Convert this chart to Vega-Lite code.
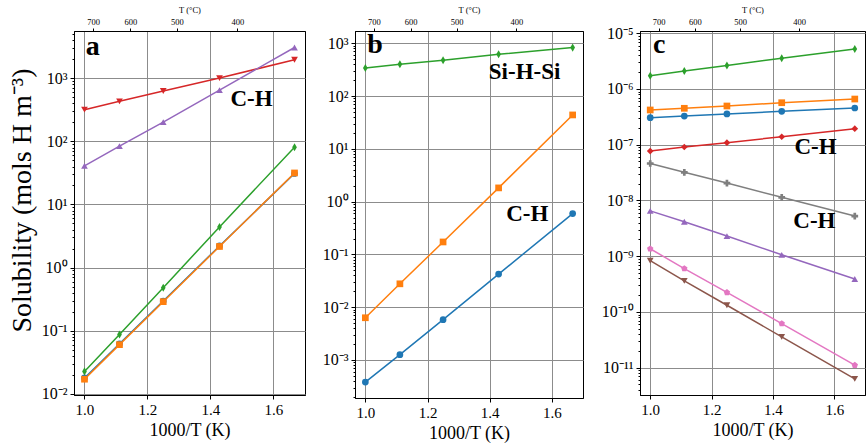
{
  "$schema": "https://vega.github.io/schema/vega-lite/v6.json",
  "background": "white",
  "padding": {"left": 7, "top": 4, "right": 4, "bottom": 4},
  "datasets": {
    "solubility": [
      {"panel": "a", "series": "a0", "x": 1.0, "y": 0.0178},
      {"panel": "a", "series": "a0", "x": 1.1111, "y": 0.062},
      {"panel": "a", "series": "a0", "x": 1.25, "y": 0.295},
      {"panel": "a", "series": "a0", "x": 1.4286, "y": 2.2},
      {"panel": "a", "series": "a0", "x": 1.6667, "y": 31},
      {"panel": "a", "series": "a1", "x": 1.0, "y": 0.017},
      {"panel": "a", "series": "a1", "x": 1.1111, "y": 0.06},
      {"panel": "a", "series": "a1", "x": 1.25, "y": 0.288},
      {"panel": "a", "series": "a1", "x": 1.4286, "y": 2.16},
      {"panel": "a", "series": "a1", "x": 1.6667, "y": 31.6},
      {"panel": "a", "series": "a2", "x": 1.0, "y": 0.0226},
      {"panel": "a", "series": "a2", "x": 1.1111, "y": 0.087},
      {"panel": "a", "series": "a2", "x": 1.25, "y": 0.48},
      {"panel": "a", "series": "a2", "x": 1.4286, "y": 4.4},
      {"panel": "a", "series": "a2", "x": 1.6667, "y": 81},
      {"panel": "a", "series": "a3", "x": 1.0, "y": 318},
      {"panel": "a", "series": "a3", "x": 1.1111, "y": 432},
      {"panel": "a", "series": "a3", "x": 1.25, "y": 630},
      {"panel": "a", "series": "a3", "x": 1.4286, "y": 1010},
      {"panel": "a", "series": "a3", "x": 1.6667, "y": 1970},
      {"panel": "a", "series": "a4", "x": 1.0, "y": 41},
      {"panel": "a", "series": "a4", "x": 1.1111, "y": 84},
      {"panel": "a", "series": "a4", "x": 1.25, "y": 202},
      {"panel": "a", "series": "a4", "x": 1.4286, "y": 650},
      {"panel": "a", "series": "a4", "x": 1.6667, "y": 3080},
      {"panel": "b", "series": "b0", "x": 1.0, "y": 0.00038},
      {"panel": "b", "series": "b0", "x": 1.1111, "y": 0.00126},
      {"panel": "b", "series": "b0", "x": 1.25, "y": 0.0058},
      {"panel": "b", "series": "b0", "x": 1.4286, "y": 0.0423},
      {"panel": "b", "series": "b0", "x": 1.6667, "y": 0.593},
      {"panel": "b", "series": "b1", "x": 1.0, "y": 0.0063},
      {"panel": "b", "series": "b1", "x": 1.1111, "y": 0.0277},
      {"panel": "b", "series": "b1", "x": 1.25, "y": 0.172},
      {"panel": "b", "series": "b1", "x": 1.4286, "y": 1.82},
      {"panel": "b", "series": "b1", "x": 1.6667, "y": 43.9},
      {"panel": "b", "series": "b2", "x": 1.0, "y": 340},
      {"panel": "b", "series": "b2", "x": 1.1111, "y": 400},
      {"panel": "b", "series": "b2", "x": 1.25, "y": 476},
      {"panel": "b", "series": "b2", "x": 1.4286, "y": 620},
      {"panel": "b", "series": "b2", "x": 1.6667, "y": 828},
      {"panel": "c", "series": "c0", "x": 1.0, "y": 3.05e-7},
      {"panel": "c", "series": "c0", "x": 1.1111, "y": 3.27e-7},
      {"panel": "c", "series": "c0", "x": 1.25, "y": 3.56e-7},
      {"panel": "c", "series": "c0", "x": 1.4286, "y": 3.97e-7},
      {"panel": "c", "series": "c0", "x": 1.6667, "y": 4.56e-7},
      {"panel": "c", "series": "c1", "x": 1.0, "y": 4.2e-7},
      {"panel": "c", "series": "c1", "x": 1.1111, "y": 4.5e-7},
      {"panel": "c", "series": "c1", "x": 1.25, "y": 4.95e-7},
      {"panel": "c", "series": "c1", "x": 1.4286, "y": 5.67e-7},
      {"panel": "c", "series": "c1", "x": 1.6667, "y": 6.6e-7},
      {"panel": "c", "series": "c2", "x": 1.0, "y": 1.73e-6},
      {"panel": "c", "series": "c2", "x": 1.1111, "y": 2.1e-6},
      {"panel": "c", "series": "c2", "x": 1.25, "y": 2.63e-6},
      {"panel": "c", "series": "c2", "x": 1.4286, "y": 3.56e-6},
      {"panel": "c", "series": "c2", "x": 1.6667, "y": 5.2e-6},
      {"panel": "c", "series": "c3", "x": 1.0, "y": 7.7e-8},
      {"panel": "c", "series": "c3", "x": 1.1111, "y": 9.1e-8},
      {"panel": "c", "series": "c3", "x": 1.25, "y": 1.09e-7},
      {"panel": "c", "series": "c3", "x": 1.4286, "y": 1.39e-7},
      {"panel": "c", "series": "c3", "x": 1.6667, "y": 1.94e-7},
      {"panel": "c", "series": "c4", "x": 1.0, "y": 6.5e-9},
      {"panel": "c", "series": "c4", "x": 1.1111, "y": 4.15e-9},
      {"panel": "c", "series": "c4", "x": 1.25, "y": 2.3e-9},
      {"panel": "c", "series": "c4", "x": 1.4286, "y": 1.06e-9},
      {"panel": "c", "series": "c4", "x": 1.6667, "y": 3.9e-10},
      {"panel": "c", "series": "c5", "x": 1.0, "y": 8.3e-10},
      {"panel": "c", "series": "c5", "x": 1.1111, "y": 3.6e-10},
      {"panel": "c", "series": "c5", "x": 1.25, "y": 1.32e-10},
      {"panel": "c", "series": "c5", "x": 1.4286, "y": 3.57e-11},
      {"panel": "c", "series": "c5", "x": 1.6667, "y": 6.3e-12},
      {"panel": "c", "series": "c6", "x": 1.0, "y": 1.36e-9},
      {"panel": "c", "series": "c6", "x": 1.1111, "y": 6.0e-10},
      {"panel": "c", "series": "c6", "x": 1.25, "y": 2.24e-10},
      {"panel": "c", "series": "c6", "x": 1.4286, "y": 6.2e-11},
      {"panel": "c", "series": "c6", "x": 1.6667, "y": 1.11e-11},
      {"panel": "c", "series": "c7", "x": 1.0, "y": 4.6e-8},
      {"panel": "c", "series": "c7", "x": 1.1111, "y": 3.2e-8},
      {"panel": "c", "series": "c7", "x": 1.25, "y": 2.05e-8},
      {"panel": "c", "series": "c7", "x": 1.4286, "y": 1.14e-8},
      {"panel": "c", "series": "c7", "x": 1.6667, "y": 5.25e-9}
    ],
    "notes": [
      {"panel": "a", "kind": "letter", "label": "a", "x": 1.004, "y": 2300},
      {"panel": "a", "kind": "bond", "label": "C-H", "x": 1.4635, "y": 361},
      {"panel": "b", "kind": "letter", "label": "b", "x": 1.006, "y": 646},
      {"panel": "b", "kind": "bond", "label": "Si-H-Si", "x": 1.397, "y": 208},
      {"panel": "b", "kind": "bond", "label": "C-H", "x": 1.453, "y": 0.436},
      {"panel": "c", "kind": "letter", "label": "c", "x": 1.009, "y": 4.37e-6},
      {"panel": "c", "kind": "bond", "label": "C-H", "x": 1.47, "y": 6.73e-8},
      {"panel": "c", "kind": "bond", "label": "C-H", "x": 1.4665, "y": 3.16e-9}
    ]
  },
  "config": {
    "font": "Liberation Serif",
    "view": {"stroke": "black", "strokeWidth": 1},
    "axis": {
      "domainColor": "black",
      "tickColor": "black",
      "labelColor": "black",
      "titleColor": "black",
      "labelFont": "Liberation Serif",
      "titleFont": "Liberation Serif",
      "titleFontWeight": "normal",
      "gridColor": "#8c8c8c",
      "gridWidth": 1
    },
    "style": {
      "guide-label": {"font": "Liberation Serif"},
      "guide-title": {"font": "Liberation Serif"}
    },
    "text": {"font": "Liberation Serif"}
  },
  "bounds": "flush",
  "spacing": 50,
  "hconcat": [
    {
      "width": 231,
      "height": 364,
      "resolve": {"axis": {"x": "independent", "y": "independent"}},
      "layer": [
        {
          "data": {"name": "solubility"},
          "transform": [{"filter": "datum.panel === 'a'"}],
          "mark": {"type": "line", "strokeWidth": 1.5},
          "encoding": {
            "x": {"field": "x", "type": "quantitative",
              "scale": {"domain": [0.9667, 1.7], "nice": false, "zero": false},
              "axis": {"orient": "bottom", "values": [1.0, 1.2, 1.4, 1.6], "format": ".1f", "title": "1000/T (K)", "labelFont": "Liberation Serif", "titleFont": "Liberation Serif", "titleFontSize": 18, "labelFontSize": 15, "tickSize": 4, "labelPadding": 3, "titlePadding": 4, "grid": true, "labelFlush": false, "labelOverlap": false}},
            "y": {"field": "y", "type": "quantitative",
              "scale": {"type": "log", "domain": [0.00955, 5623], "nice": false},
              "axis": {"orient": "left",
                "values": [0.01,0.02,0.03,0.04,0.05,0.06,0.07,0.08,0.09,0.1,0.2,0.3,0.4,0.5,0.6,0.7,0.8,0.9,1,2,3,4,5,6,7,8,9,10,20,30,40,50,60,70,80,90,100,200,300,400,500,600,700,800,900,1000,2000,3000,4000,5000],
                "labelExpr": "abs(log(datum.value)/LN10 - round(log(datum.value)/LN10)) < 0.001 ? '10' + replace(replace(replace(replace(replace(replace(replace(replace(replace(replace(replace('' + round(log(datum.value)/LN10), regexp('-','g'), '⁻'), regexp('0','g'), '⁰'), regexp('1','g'), '¹'), regexp('2','g'), '²'), regexp('3','g'), '³'), regexp('4','g'), '⁴'), regexp('5','g'), '⁵'), regexp('6','g'), '⁶'), regexp('7','g'), '⁷'), regexp('8','g'), '⁸'), regexp('9','g'), '⁹') : ''",
                "labelFont": "Liberation Serif", "titleFont": "Liberation Serif",
                "labelFontSize": 16, "labelPadding": 3, "labelOverlap": false,
                "tickSize": {"condition": {"test": "abs(log(datum.value)/LN10 - round(log(datum.value)/LN10)) < 0.001", "value": 4}, "value": 2},
                "grid": true,
                "gridOpacity": {"condition": {"test": "abs(log(datum.value)/LN10 - round(log(datum.value)/LN10)) < 0.001", "value": 1}, "value": 0},
                "title": "Solubility (mols H m⁻³)", "titleFontSize": 28, "titleAngle": 270, "titleAlign": "center", "titleBaseline": "alphabetic", "titleX": -44, "titleY": 169}},
            "color": {"field": "series", "type": "nominal", "legend": null,
              "scale": {"domain": ["a0","a1","a2","a3","a4","b0","b1","b2","c0","c1","c2","c3","c4","c5","c6","c7"],
                "range": ["#1f77b4","#ff7f0e","#2ca02c","#d62728","#9467bd","#1f77b4","#ff7f0e","#2ca02c","#1f77b4","#ff7f0e","#2ca02c","#d62728","#9467bd","#8c564b","#e377c2","#7f7f7f"]}}
          }
        },
        {
          "data": {"name": "solubility"},
          "transform": [{"filter": "datum.panel === 'a'"}],
          "mark": {"type": "point", "filled": true, "opacity": 1, "size": 45},
          "encoding": {
            "x": {"field": "x", "type": "quantitative",
              "scale": {"domain": [0.9667, 1.7], "nice": false, "zero": false},
              "axis": {"orient": "top", "values": [1.02759, 1.14528, 1.29341, 1.48558], "labelExpr": "'' + round(1000/datum.value - 273.15)", "title": "T (°C)", "labelFont": "Liberation Serif", "titleFont": "Liberation Serif", "titleFontSize": 8.5, "labelFontSize": 8.5, "tickSize": 3, "labelPadding": 2, "titlePadding": 3, "grid": false, "labelFlush": false, "labelOverlap": false}},
            "y": {"field": "y", "type": "quantitative", "scale": {"type": "log", "domain": [0.00955, 5623], "nice": false}, "axis": null},
            "color": {"field": "series", "type": "nominal", "legend": null,
              "scale": {"domain": ["a0","a1","a2","a3","a4","b0","b1","b2","c0","c1","c2","c3","c4","c5","c6","c7"],
                "range": ["#1f77b4","#ff7f0e","#2ca02c","#d62728","#9467bd","#1f77b4","#ff7f0e","#2ca02c","#1f77b4","#ff7f0e","#2ca02c","#d62728","#9467bd","#8c564b","#e377c2","#7f7f7f"]}},
            "shape": {"field": "series", "type": "nominal", "legend": null,
              "scale": {"domain": ["a0","a1","a2","a3","a4","b0","b1","b2","c0","c1","c2","c3","c4","c5","c6","c7"],
                "range": ["circle","square","M0,-1.2L0.7,0L0,1.2L-0.7,0Z","triangle-down","triangle-up","circle","square","M0,-1.2L0.7,0L0,1.2L-0.7,0Z","circle","square","M0,-1.2L0.7,0L0,1.2L-0.7,0Z","diamond","triangle-up","triangle-down","M0,-1L0.951,-0.309L0.588,0.809L-0.588,0.809L-0.951,-0.309Z","cross"]}}
          }
        },
        {
          "data": {"name": "notes"},
          "transform": [{"filter": "datum.panel === 'a' && datum.kind === 'letter'"}],
          "mark": {"type": "text", "align": "left", "baseline": "alphabetic", "font": "Liberation Serif", "fontWeight": "bold", "fontSize": 28, "color": "black"},
          "encoding": {
            "x": {"field": "x", "type": "quantitative", "scale": {"domain": [0.9667, 1.7], "nice": false, "zero": false}, "axis": null},
            "y": {"field": "y", "type": "quantitative", "scale": {"type": "log", "domain": [0.00955, 5623], "nice": false}, "axis": null},
            "text": {"field": "label"}
          }
        },
        {
          "data": {"name": "notes"},
          "transform": [{"filter": "datum.panel === 'a' && datum.kind === 'bond'"}],
          "mark": {"type": "text", "align": "left", "baseline": "alphabetic", "font": "Liberation Serif", "fontWeight": "bold", "fontSize": 23, "color": "black"},
          "encoding": {
            "x": {"field": "x", "type": "quantitative", "scale": {"domain": [0.9667, 1.7], "nice": false, "zero": false}, "axis": null},
            "y": {"field": "y", "type": "quantitative", "scale": {"type": "log", "domain": [0.00955, 5623], "nice": false}, "axis": null},
            "text": {"field": "label"}
          }
        }
      ]
    },
    {
      "bounds": "flush",
      "spacing": 57,
      "hconcat": [
        {
          "width": 228,
          "height": 367,
          "resolve": {"axis": {"x": "independent", "y": "independent"}},
          "layer": [
            {
              "data": {"name": "solubility"},
              "transform": [{"filter": "datum.panel === 'b'"}],
              "mark": {"type": "line", "strokeWidth": 1.5},
              "encoding": {
                "x": {"field": "x", "type": "quantitative",
                  "scale": {"domain": [0.9667, 1.7], "nice": false, "zero": false},
                  "axis": {"orient": "bottom", "values": [1.0, 1.2, 1.4, 1.6], "format": ".1f", "title": "1000/T (K)", "labelFont": "Liberation Serif", "titleFont": "Liberation Serif", "titleFontSize": 18, "labelFontSize": 15, "tickSize": 4, "labelPadding": 3, "titlePadding": 4, "grid": true, "labelFlush": false, "labelOverlap": false}},
                "y": {"field": "y", "type": "quantitative",
                  "scale": {"type": "log", "domain": [0.00019, 1710], "nice": false},
                  "axis": {"orient": "left",
                    "values": [0.0002,0.0003,0.0004,0.0005,0.0006,0.0007,0.0008,0.0009,0.001,0.002,0.003,0.004,0.005,0.006,0.007,0.008,0.009,0.01,0.02,0.03,0.04,0.05,0.06,0.07,0.08,0.09,0.1,0.2,0.3,0.4,0.5,0.6,0.7,0.8,0.9,1,2,3,4,5,6,7,8,9,10,20,30,40,50,60,70,80,90,100,200,300,400,500,600,700,800,900,1000],
                    "labelExpr": "abs(log(datum.value)/LN10 - round(log(datum.value)/LN10)) < 0.001 ? '10' + replace(replace(replace(replace(replace(replace(replace(replace(replace(replace(replace('' + round(log(datum.value)/LN10), regexp('-','g'), '⁻'), regexp('0','g'), '⁰'), regexp('1','g'), '¹'), regexp('2','g'), '²'), regexp('3','g'), '³'), regexp('4','g'), '⁴'), regexp('5','g'), '⁵'), regexp('6','g'), '⁶'), regexp('7','g'), '⁷'), regexp('8','g'), '⁸'), regexp('9','g'), '⁹') : ''",
                    "labelFont": "Liberation Serif",
                    "labelFontSize": 16, "labelPadding": 3, "labelOverlap": false,
                    "tickSize": {"condition": {"test": "abs(log(datum.value)/LN10 - round(log(datum.value)/LN10)) < 0.001", "value": 4}, "value": 2},
                    "grid": true,
                    "gridOpacity": {"condition": {"test": "abs(log(datum.value)/LN10 - round(log(datum.value)/LN10)) < 0.001", "value": 1}, "value": 0},
                    "title": null}},
                "color": {"field": "series", "type": "nominal", "legend": null,
                  "scale": {"domain": ["a0","a1","a2","a3","a4","b0","b1","b2","c0","c1","c2","c3","c4","c5","c6","c7"],
                    "range": ["#1f77b4","#ff7f0e","#2ca02c","#d62728","#9467bd","#1f77b4","#ff7f0e","#2ca02c","#1f77b4","#ff7f0e","#2ca02c","#d62728","#9467bd","#8c564b","#e377c2","#7f7f7f"]}}
              }
            },
            {
              "data": {"name": "solubility"},
              "transform": [{"filter": "datum.panel === 'b'"}],
              "mark": {"type": "point", "filled": true, "opacity": 1, "size": 45},
              "encoding": {
                "x": {"field": "x", "type": "quantitative",
                  "scale": {"domain": [0.9667, 1.7], "nice": false, "zero": false},
                  "axis": {"orient": "top", "values": [1.02759, 1.14528, 1.29341, 1.48558], "labelExpr": "'' + round(1000/datum.value - 273.15)", "title": "T (°C)", "labelFont": "Liberation Serif", "titleFont": "Liberation Serif", "titleFontSize": 8.5, "labelFontSize": 8.5, "tickSize": 3, "labelPadding": 2, "titlePadding": 3, "grid": false, "labelFlush": false, "labelOverlap": false}},
                "y": {"field": "y", "type": "quantitative", "scale": {"type": "log", "domain": [0.00019, 1710], "nice": false}, "axis": null},
                "color": {"field": "series", "type": "nominal", "legend": null,
                  "scale": {"domain": ["a0","a1","a2","a3","a4","b0","b1","b2","c0","c1","c2","c3","c4","c5","c6","c7"],
                    "range": ["#1f77b4","#ff7f0e","#2ca02c","#d62728","#9467bd","#1f77b4","#ff7f0e","#2ca02c","#1f77b4","#ff7f0e","#2ca02c","#d62728","#9467bd","#8c564b","#e377c2","#7f7f7f"]}},
                "shape": {"field": "series", "type": "nominal", "legend": null,
                  "scale": {"domain": ["a0","a1","a2","a3","a4","b0","b1","b2","c0","c1","c2","c3","c4","c5","c6","c7"],
                    "range": ["circle","square","M0,-1.2L0.7,0L0,1.2L-0.7,0Z","triangle-down","triangle-up","circle","square","M0,-1.2L0.7,0L0,1.2L-0.7,0Z","circle","square","M0,-1.2L0.7,0L0,1.2L-0.7,0Z","diamond","triangle-up","triangle-down","M0,-1L0.951,-0.309L0.588,0.809L-0.588,0.809L-0.951,-0.309Z","cross"]}}
              }
            },
            {
              "data": {"name": "notes"},
              "transform": [{"filter": "datum.panel === 'b' && datum.kind === 'letter'"}],
              "mark": {"type": "text", "align": "left", "baseline": "alphabetic", "font": "Liberation Serif", "fontWeight": "bold", "fontSize": 28, "color": "black"},
              "encoding": {
                "x": {"field": "x", "type": "quantitative", "scale": {"domain": [0.9667, 1.7], "nice": false, "zero": false}, "axis": null},
                "y": {"field": "y", "type": "quantitative", "scale": {"type": "log", "domain": [0.00019, 1710], "nice": false}, "axis": null},
                "text": {"field": "label"}
              }
            },
            {
              "data": {"name": "notes"},
              "transform": [{"filter": "datum.panel === 'b' && datum.kind === 'bond'"}],
              "mark": {"type": "text", "align": "left", "baseline": "alphabetic", "font": "Liberation Serif", "fontWeight": "bold", "fontSize": 23, "color": "black"},
              "encoding": {
                "x": {"field": "x", "type": "quantitative", "scale": {"domain": [0.9667, 1.7], "nice": false, "zero": false}, "axis": null},
                "y": {"field": "y", "type": "quantitative", "scale": {"type": "log", "domain": [0.00019, 1710], "nice": false}, "axis": null},
                "text": {"field": "label"}
              }
            }
          ]
        },
        {
          "width": 225,
          "height": 364,
          "resolve": {"axis": {"x": "independent", "y": "independent"}},
          "layer": [
            {
              "data": {"name": "solubility"},
              "transform": [{"filter": "datum.panel === 'c'"}],
              "mark": {"type": "line", "strokeWidth": 1.5},
              "encoding": {
                "x": {"field": "x", "type": "quantitative",
                  "scale": {"domain": [0.9667, 1.7], "nice": false, "zero": false},
                  "axis": {"orient": "bottom", "values": [1.0, 1.2, 1.4, 1.6], "format": ".1f", "title": "1000/T (K)", "labelFont": "Liberation Serif", "titleFont": "Liberation Serif", "titleFontSize": 18, "labelFontSize": 15, "tickSize": 4, "labelPadding": 3, "titlePadding": 4, "grid": true, "labelFlush": false, "labelOverlap": false}},
                "y": {"field": "y", "type": "quantitative",
                  "scale": {"type": "log", "domain": [3.24e-12, 1.096e-5], "nice": false},
                  "axis": {"orient": "left",
                    "values": [4e-12,5e-12,6e-12,7e-12,8e-12,9e-12,1e-11,2e-11,3e-11,4e-11,5e-11,6e-11,7e-11,8e-11,9e-11,1e-10,2e-10,3e-10,4e-10,5e-10,6e-10,7e-10,8e-10,9e-10,1e-9,2e-9,3e-9,4e-9,5e-9,6e-9,7e-9,8e-9,9e-9,1e-8,2e-8,3e-8,4e-8,5e-8,6e-8,7e-8,8e-8,9e-8,1e-7,2e-7,3e-7,4e-7,5e-7,6e-7,7e-7,8e-7,9e-7,1e-6,2e-6,3e-6,4e-6,5e-6,6e-6,7e-6,8e-6,9e-6,1e-5],
                    "labelExpr": "abs(log(datum.value)/LN10 - round(log(datum.value)/LN10)) < 0.001 ? '10' + replace(replace(replace(replace(replace(replace(replace(replace(replace(replace(replace('' + round(log(datum.value)/LN10), regexp('-','g'), '⁻'), regexp('0','g'), '⁰'), regexp('1','g'), '¹'), regexp('2','g'), '²'), regexp('3','g'), '³'), regexp('4','g'), '⁴'), regexp('5','g'), '⁵'), regexp('6','g'), '⁶'), regexp('7','g'), '⁷'), regexp('8','g'), '⁸'), regexp('9','g'), '⁹') : ''",
                    "labelFont": "Liberation Serif",
                    "labelFontSize": 16, "labelPadding": 3, "labelOverlap": false,
                    "tickSize": {"condition": {"test": "abs(log(datum.value)/LN10 - round(log(datum.value)/LN10)) < 0.001", "value": 4}, "value": 2},
                    "grid": true,
                    "gridOpacity": {"condition": {"test": "abs(log(datum.value)/LN10 - round(log(datum.value)/LN10)) < 0.001", "value": 1}, "value": 0},
                    "title": null}},
                "color": {"field": "series", "type": "nominal", "legend": null,
                  "scale": {"domain": ["a0","a1","a2","a3","a4","b0","b1","b2","c0","c1","c2","c3","c4","c5","c6","c7"],
                    "range": ["#1f77b4","#ff7f0e","#2ca02c","#d62728","#9467bd","#1f77b4","#ff7f0e","#2ca02c","#1f77b4","#ff7f0e","#2ca02c","#d62728","#9467bd","#8c564b","#e377c2","#7f7f7f"]}}
              }
            },
            {
              "data": {"name": "solubility"},
              "transform": [{"filter": "datum.panel === 'c'"}],
              "mark": {"type": "point", "filled": true, "opacity": 1, "size": 45},
              "encoding": {
                "x": {"field": "x", "type": "quantitative",
                  "scale": {"domain": [0.9667, 1.7], "nice": false, "zero": false},
                  "axis": {"orient": "top", "values": [1.02759, 1.14528, 1.29341, 1.48558], "labelExpr": "'' + round(1000/datum.value - 273.15)", "title": "T (°C)", "labelFont": "Liberation Serif", "titleFont": "Liberation Serif", "titleFontSize": 8.5, "labelFontSize": 8.5, "tickSize": 3, "labelPadding": 2, "titlePadding": 3, "grid": false, "labelFlush": false, "labelOverlap": false}},
                "y": {"field": "y", "type": "quantitative", "scale": {"type": "log", "domain": [3.24e-12, 1.096e-5], "nice": false}, "axis": null},
                "color": {"field": "series", "type": "nominal", "legend": null,
                  "scale": {"domain": ["a0","a1","a2","a3","a4","b0","b1","b2","c0","c1","c2","c3","c4","c5","c6","c7"],
                    "range": ["#1f77b4","#ff7f0e","#2ca02c","#d62728","#9467bd","#1f77b4","#ff7f0e","#2ca02c","#1f77b4","#ff7f0e","#2ca02c","#d62728","#9467bd","#8c564b","#e377c2","#7f7f7f"]}},
                "shape": {"field": "series", "type": "nominal", "legend": null,
                  "scale": {"domain": ["a0","a1","a2","a3","a4","b0","b1","b2","c0","c1","c2","c3","c4","c5","c6","c7"],
                    "range": ["circle","square","M0,-1.2L0.7,0L0,1.2L-0.7,0Z","triangle-down","triangle-up","circle","square","M0,-1.2L0.7,0L0,1.2L-0.7,0Z","circle","square","M0,-1.2L0.7,0L0,1.2L-0.7,0Z","diamond","triangle-up","triangle-down","M0,-1L0.951,-0.309L0.588,0.809L-0.588,0.809L-0.951,-0.309Z","cross"]}}
              }
            },
            {
              "data": {"name": "notes"},
              "transform": [{"filter": "datum.panel === 'c' && datum.kind === 'letter'"}],
              "mark": {"type": "text", "align": "left", "baseline": "alphabetic", "font": "Liberation Serif", "fontWeight": "bold", "fontSize": 28, "color": "black"},
              "encoding": {
                "x": {"field": "x", "type": "quantitative", "scale": {"domain": [0.9667, 1.7], "nice": false, "zero": false}, "axis": null},
                "y": {"field": "y", "type": "quantitative", "scale": {"type": "log", "domain": [3.24e-12, 1.096e-5], "nice": false}, "axis": null},
                "text": {"field": "label"}
              }
            },
            {
              "data": {"name": "notes"},
              "transform": [{"filter": "datum.panel === 'c' && datum.kind === 'bond'"}],
              "mark": {"type": "text", "align": "left", "baseline": "alphabetic", "font": "Liberation Serif", "fontWeight": "bold", "fontSize": 23, "color": "black"},
              "encoding": {
                "x": {"field": "x", "type": "quantitative", "scale": {"domain": [0.9667, 1.7], "nice": false, "zero": false}, "axis": null},
                "y": {"field": "y", "type": "quantitative", "scale": {"type": "log", "domain": [3.24e-12, 1.096e-5], "nice": false}, "axis": null},
                "text": {"field": "label"}
              }
            }
          ]
        }
      ]
    }
  ]
}
